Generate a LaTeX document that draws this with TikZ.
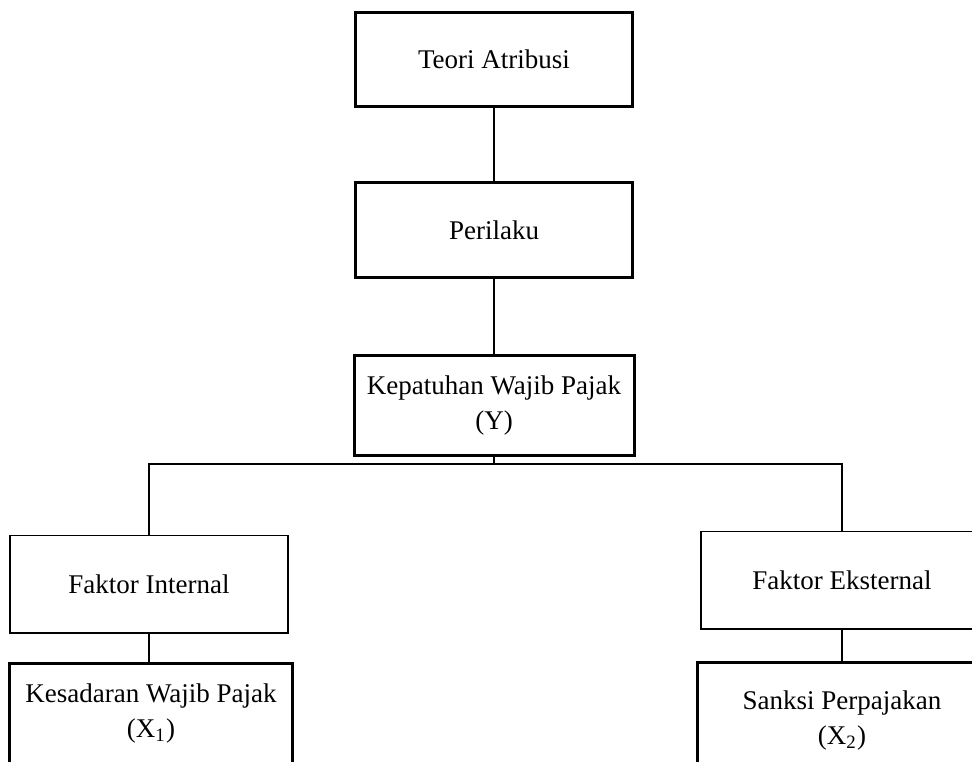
\documentclass[tikz,border=0pt]{standalone}
\usepackage{fontspec}
\setmainfont{Liberation Serif}
\usetikzlibrary{positioning}

\begin{document}
\begin{tikzpicture}[x=0.4pt,y=-0.4pt,
		tebal/.style={draw,line width=1.2pt,align=center,inner sep=0pt},
		tipis/.style={draw,line width=0.6pt,align=center,inner sep=0pt},
		garis/.style={line width=0.5pt}]
	\useasboundingbox (0,0) rectangle (972,761);
	\clip (0,0) rectangle (972,761);
	\fontsize{10.8}{14}\selectfont
	% tingkat atas
	\node[tebal,minimum width=111pt,minimum height=37.6pt] (teori) at (494,59) {Teori Atribusi};
	\node[tebal,minimum width=111pt,minimum height=38pt] (perilaku) at (494,230) {Perilaku};
	\node[tebal,minimum width=112pt,minimum height=40pt] (kepatuhan) at (494,405) {Kepatuhan Wajib Pajak\\(Y)};
	% faktor
	\node[tipis,minimum width=111pt,minimum height=39pt] (internal) at (149,584) {Faktor Internal};
	\node[tipis,minimum width=113pt,minimum height=39pt] (eksternal) at (842,580) {Faktor Eksternal};
	% variabel X
	\node[tebal,minimum width=113pt,minimum height=40pt] (kesadaran) at (151,713) {Kesadaran Wajib Pajak\\(X\textsubscript{1})};
	\node[tebal,minimum width=116pt,minimum height=46pt] (sanksi) at (842,720) {Sanksi Perpajakan\\(X\textsubscript{2})};
	\coordinate (cabang) at (kepatuhan.south |- 0,464);
	\draw[garis] (teori) -- (perilaku);
	\draw[garis] (perilaku) -- (kepatuhan);
	\draw[garis] (kepatuhan) -- (cabang);
	\draw[garis] (cabang) -| (internal);
	\draw[garis] (cabang) -| (eksternal);
	\draw[garis] (internal.south) -- (internal.south |- kesadaran.north);
	\draw[garis] (eksternal) -- (sanksi);
\end{tikzpicture}
\end{document}
